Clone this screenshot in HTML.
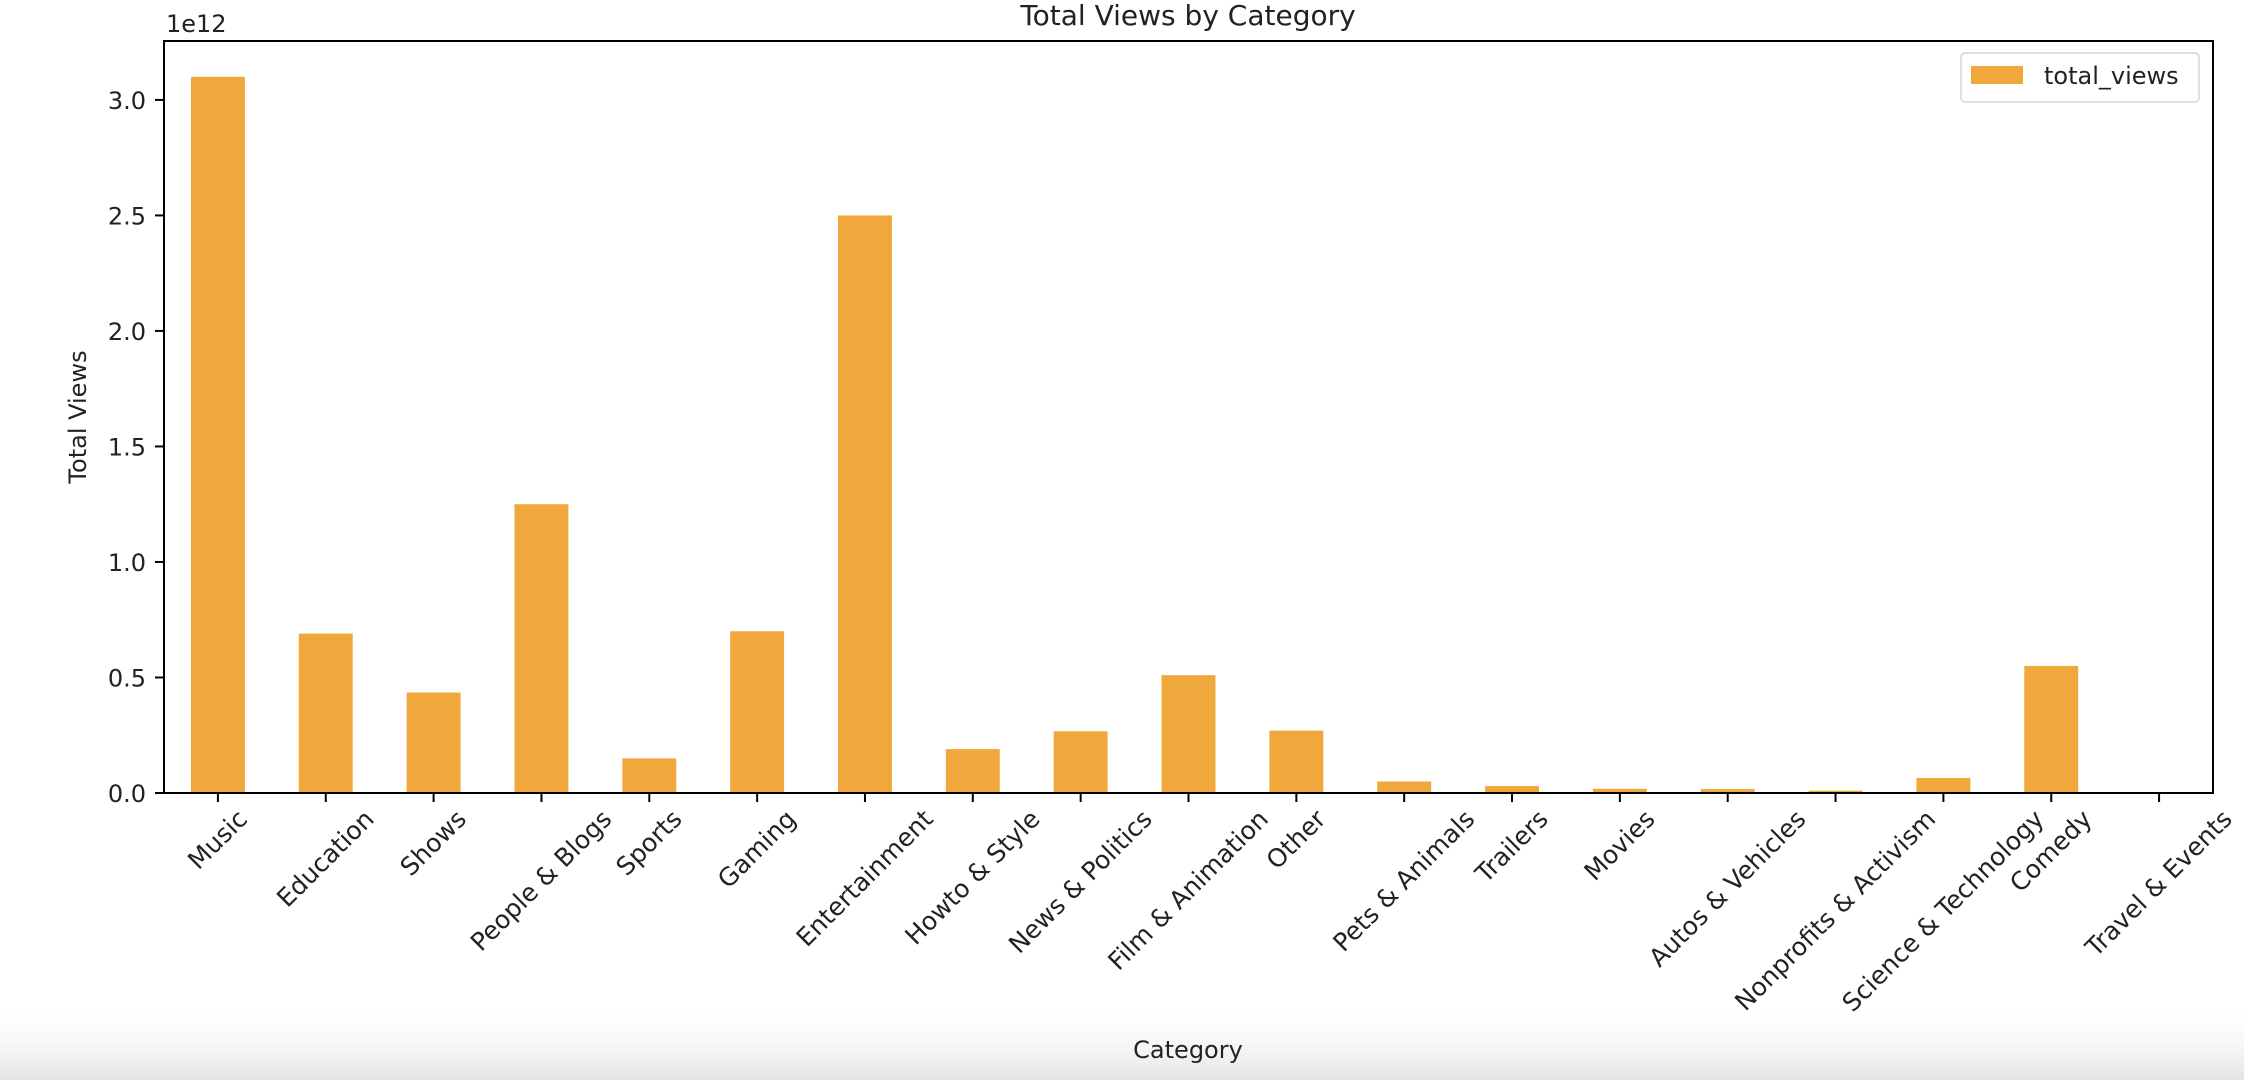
<!DOCTYPE html>
<html><head><meta charset="utf-8"><style>
html,body{margin:0;padding:0;background:#fff;}
svg{display:block;font-family:"DejaVu Sans","Liberation Sans",sans-serif;}
</style></head><body>
<svg id="chart" width="2244" height="1080" xmlns="http://www.w3.org/2000/svg">
<defs><linearGradient id="shade" x1="0" y1="0" x2="0" y2="1"><stop offset="0" stop-color="#fff" stop-opacity="0"/><stop offset="1" stop-color="#e4e4e4"/></linearGradient></defs>
<rect x="0" y="0" width="2244" height="1080" fill="#fff"/>
<rect x="0" y="1000" width="2244" height="80" fill="url(#shade)"/>
<g id="bars"></g>
<g id="yaxis"></g>
<g id="xaxis"></g>
<rect x="164" y="41" width="2049" height="752" fill="none" stroke="#000" stroke-width="2"/>
<text x="1188" y="25" font-size="28" text-anchor="middle" fill="#222">Total Views by Category</text>
<text x="166" y="32" font-size="24" fill="#222">1e12</text>
<text transform="translate(86,417) rotate(-90)" font-size="24" text-anchor="middle" fill="#222">Total Views</text>
<text x="1188" y="1058" font-size="24" text-anchor="middle" fill="#222">Category</text>
<g>
<rect x="1961" y="53" width="238" height="49" rx="4" fill="#fff" stroke="#d5d5d5" stroke-width="1.5"/>
<rect x="1971" y="66" width="52" height="18" fill="#f0a83c"/>
<text x="2044" y="84" font-size="24" fill="#222">total_views</text>
</g>
</svg>
<script>
const categories = ["Music","Education","Shows","People & Blogs","Sports","Gaming","Entertainment","Howto & Style","News & Politics","Film & Animation","Other","Pets & Animals","Trailers","Movies","Autos & Vehicles","Nonprofits & Activism","Science & Technology","Comedy","Travel & Events"];
const totalViews = [3.10,0.69,0.435,1.25,0.15,0.70,2.50,0.19,0.267,0.51,0.27,0.05,0.03,0.018,0.017,0.01,0.065,0.55,0.001];
const yTicks = [0,0.5,1.0,1.5,2.0,2.5,3.0];
const yTickLabels = ["0.0","0.5","1.0","1.5","2.0","2.5","3.0"];
const NS="http://www.w3.org/2000/svg";
const L=164,R=2213,T=41,B=793,yMax=3.255;
const xs=i=>L+(i+0.5)*(R-L)/categories.length;
const ys=v=>B-v/yMax*(B-T);
const bw=0.5*(R-L)/categories.length;
const bars=document.getElementById('bars'),ya=document.getElementById('yaxis'),xa=document.getElementById('xaxis');
function mk(t,a,p){const e=document.createElementNS(NS,t);for(const k in a)e.setAttribute(k,a[k]);p.appendChild(e);return e;}
totalViews.forEach((v,i)=>{
  const r=mk('rect',{x:xs(i)-bw/2,y:ys(v),width:bw,height:B-ys(v),fill:'#f0a83c'},bars);
  
  
});
yTicks.forEach((v,i)=>{
  const l=mk('line',{x1:155,x2:164,y1:ys(v),y2:ys(v),stroke:'#000','stroke-width':2},ya);
  
  
  const t=mk('text',{x:146,y:ys(v)+9,'font-size':24,'text-anchor':'end',fill:'#222'},ya);
  t.textContent=yTickLabels[i];
  
  
});
categories.forEach((c,i)=>{
  const x=xs(i);
  const l=mk('line',{x1:x,x2:x,y1:B,y2:B+9,stroke:'#000','stroke-width':2},xa);
  
  
  const t=mk('text',{x:0,y:0,'font-size':25,'text-anchor':'middle',fill:'#222'},xa);
  t.textContent=c;
  
  
  const w=t.getComputedTextLength(),h=25;
  const bh=(w+h)*0.7071;
  const cy=B+13+bh/2;
  t.setAttribute('transform','translate('+x+','+cy+') rotate(-45) translate(0,8)');
});
</script>
</body></html>
